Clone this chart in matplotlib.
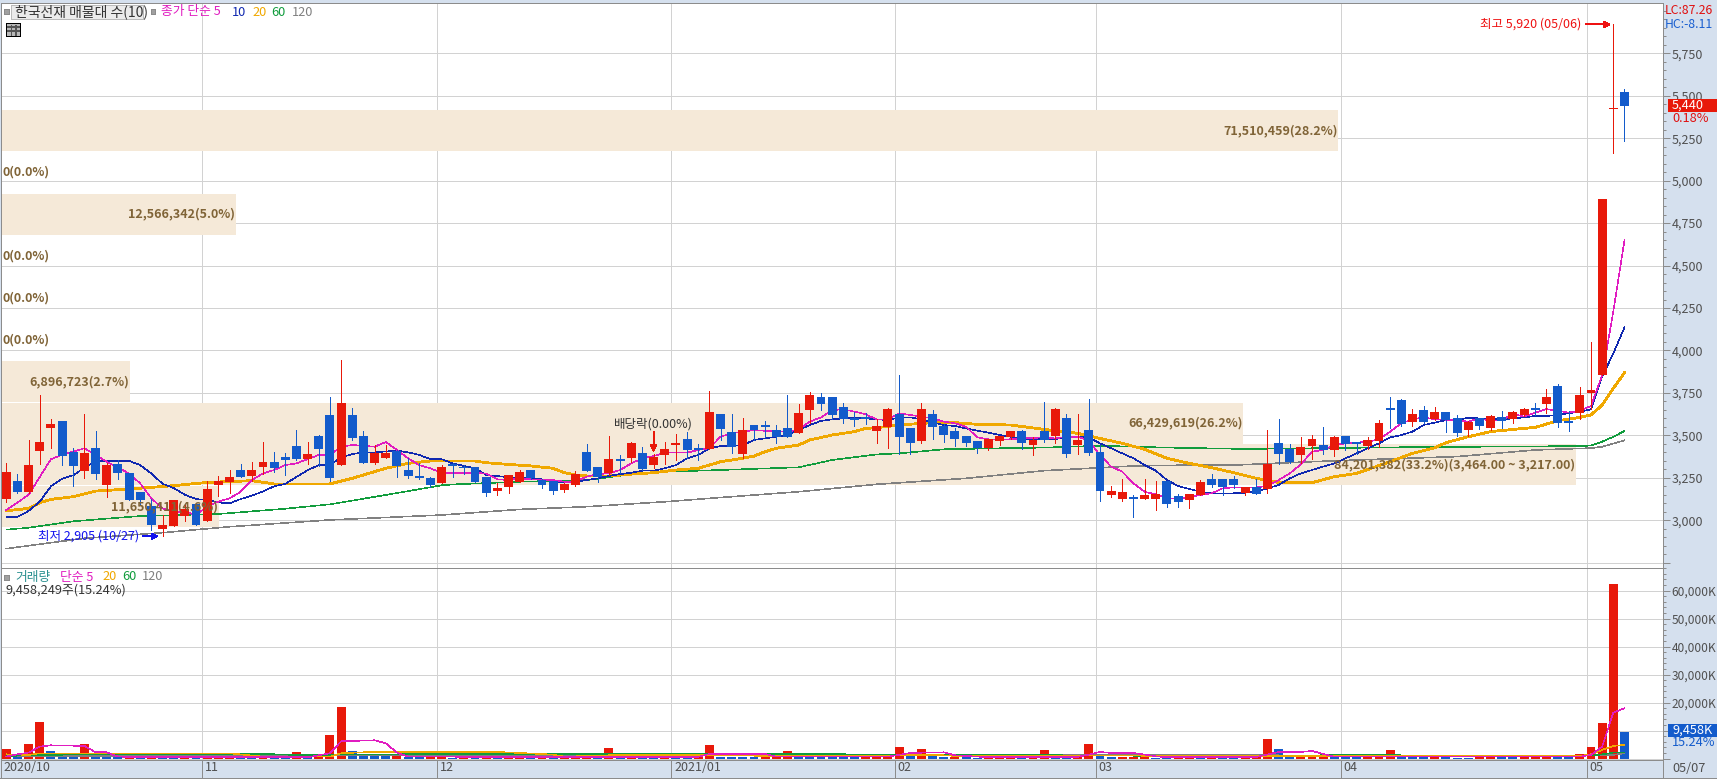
import matplotlib
matplotlib.use('Agg')
import matplotlib.pyplot as plt
from matplotlib.patches import Rectangle
from matplotlib.ticker import MultipleLocator
from matplotlib.transforms import ScaledTranslation

plt.rcParams['font.family'] = ['Noto Sans CJK KR', 'DejaVu Sans']
plt.rcParams['lines.antialiased'] = False
plt.rcParams['patch.antialiased'] = False

W, H = 1717, 779

# daily candles
opens = [3125,3230,3165,3410,3545,3585,3400,3290,3425,3210,
         3330,3280,3165,3085,2950,2965,3025,3095,2995,3210,
         3225,3295,3260,3315,3345,3370,3435,3360,3495,3620,
         3325,3620,3495,3335,3365,3410,3295,3260,3250,3220,
         3330,3310,3315,3255,3170,3195,3225,3295,3235,3230,
         3180,3210,3400,3315,3280,3360,3365,3395,3325,3385,
         3445,3480,3425,3420,3625,3520,3390,3560,3560,3530,
         3545,3515,3650,3725,3725,3665,3600,3610,3525,3550,
         3625,3545,3465,3625,3555,3525,3495,3465,3425,3465,
         3490,3525,3445,3525,3495,3600,3445,3530,3400,3150,
         3125,3135,3125,3125,3230,3145,3120,3150,3245,3245,
         3245,3160,3195,3185,3455,3420,3385,3435,3445,3415,
         3495,3460,3435,3465,3660,3710,3580,3650,3595,3635,
         3600,3530,3600,3545,3610,3595,3620,3660,3685,3790,
         3580,3630,3750,3855,5420,5520]
closes = [3285,3165,3325,3460,3565,3380,3320,3395,3270,3325,
          3280,3120,3120,2970,2970,3120,3065,2970,3185,3230,
          3255,3255,3295,3345,3310,3355,3360,3390,3420,3250,
          3690,3485,3335,3395,3395,3320,3260,3250,3210,3315,
          3320,3305,3225,3160,3190,3265,3285,3250,3210,3170,
          3215,3270,3290,3255,3360,3350,3455,3300,3370,3420,
          3455,3415,3415,3635,3535,3430,3530,3530,3550,3490,
          3490,3630,3740,3685,3620,3595,3590,3595,3555,3655,
          3490,3455,3655,3550,3500,3480,3455,3425,3480,3495,
          3525,3455,3475,3475,3655,3390,3475,3395,3170,3170,
          3165,3125,3150,3155,3095,3105,3155,3225,3210,3195,
          3210,3195,3155,3330,3390,3345,3430,3480,3415,3490,
          3450,3450,3475,3575,3650,3565,3625,3580,3635,3590,
          3515,3580,3555,3615,3585,3635,3655,3650,3725,3575,
          3575,3740,3765,4890,5430,5440]
highs = [3335,3270,3475,3740,3595,3585,3425,3625,3525,3335,
         3355,3280,3165,3125,3030,3120,3090,3095,3230,3260,
         3295,3330,3345,3460,3400,3395,3530,3460,3500,3725,
         3945,3660,3525,3445,3445,3415,3365,3335,3255,3325,
         3335,3325,3315,3255,3220,3265,3295,3295,3245,3230,
         3220,3290,3450,3315,3495,3385,3460,3430,3390,3460,
         3510,3520,3450,3760,3625,3625,3600,3560,3585,3560,
         3740,3685,3755,3750,3725,3690,3635,3630,3595,3660,
         3855,3545,3690,3650,3565,3545,3495,3465,3480,3495,
         3525,3530,3490,3695,3660,3625,3625,3715,3445,3200,
         3245,3150,3245,3230,3230,3155,3155,3235,3270,3245,
         3260,3195,3245,3530,3595,3450,3490,3500,3550,3495,
         3495,3460,3490,3590,3725,3715,3655,3675,3665,3635,
         3620,3585,3600,3620,3645,3645,3660,3690,3775,3800,
         3645,3785,4050,4890,5920,5540]
lows = [3105,3160,3160,3330,3425,3325,3200,3250,3245,3135,
        3245,3120,3090,2945,2905,2965,2995,2970,2995,3145,
        3160,3255,3230,3270,3285,3265,3355,3330,3320,3230,
        3325,3475,3335,3330,3365,3255,3250,3245,3195,3220,
        3255,3270,3225,3145,3150,3160,3225,3245,3190,3155,
        3165,3200,3290,3225,3265,3280,3345,3295,3310,3330,
        3355,3365,3355,3420,3475,3395,3365,3475,3490,3455,
        3490,3515,3575,3650,3595,3575,3555,3565,3455,3425,
        3390,3390,3455,3480,3460,3435,3435,3395,3415,3445,
        3480,3420,3385,3460,3455,3370,3390,3385,3115,3135,
        3115,3020,3125,3060,3080,3080,3070,3150,3195,3150,
        3190,3150,3155,3160,3330,3335,3335,3360,3390,3380,
        3415,3390,3420,3430,3545,3555,3555,3575,3590,3520,
        3495,3495,3535,3530,3545,3575,3615,3620,3630,3550,
        3525,3595,3655,3855,5165,5235]

# volume in thousands of shares
volumes = [3450,700,5200,13100,2700,1800,1100,5200,1100,1100,
           600,1000,600,1000,400,350,400,350,400,400,
           450,400,350,1000,500,600,2400,950,950,8450,
           18450,2700,1800,1100,1100,1500,600,700,800,400,
           350,400,350,400,350,400,400,350,400,350,
           400,600,1100,600,3900,1070,830,700,600,600,
           500,500,700,5000,700,700,700,700,830,830,
           2850,1070,1190,700,600,700,400,400,500,830,
           4300,1070,3570,1070,700,700,700,360,480,480,
           360,360,480,3200,700,700,700,5350,1070,700,
           700,700,830,360,360,400,400,360,400,360,
           360,400,600,7140,3570,700,1070,1070,700,600,
           500,400,500,500,3100,1070,1070,600,1070,500,
           360,360,700,700,500,500,500,500,500,400,
           500,1700,4200,12700,62350,9458]
vol_colors = ("rbrrbbbrbb" "brbrbbrbrr" "rbbrbbrbrr" "rbbbbrbbrr"
              "brbrbrrbrb" "rrrbrbrbbr" "bbrrbbbbrr" "rbbbbbbrrr"
              "rbrbbrbbrr" "rbrrbbrrbb" "rrrbbrrbrb" "brrrbbrrrb"
              "bbrrrbbbrb" "bbrrbbrrrb" "brrrrb")

# moving averages on the price panel
ma5_x = [0,2,3,4,5,7,8,9,11,12,13,14,15,16,17,18,19,20,21,22,23,24,25,26,28,29,30,31,32,33,34,35,36,37,38,39,
         41,43,44,45,46,47,49,50,51,52,53,54,55,56,57,58,59,61,62,63,64,65,66,67,69,70,71,72,73,74,75,76,77,78,
         79,80,81,83,84,85,86,87,88,89,91,93,94,95,96,97,98,99,100,101,102,103,104,105,106,107,108,109,110,112,113,114,115,116,
         117,118,119,120,121,122,123,124,125,126,127,128,130,131,132,133,134,135,136,137,138,139,140,141,142,143,144,145]
ma5_y = [3060,3150,3255,3360,3385,3424,3385,3345,3276,3217,3129,3070,3050,3050,3031,3080,3110,3129,3168,3237,3276,3296,3325,3335,3385,3385,3433,3443,3439,3433,3461,3414,3365,3325,3306,3280,
         3280,3276,3241,3237,3247,3241,3237,3227,3227,3257,3272,3276,3296,3335,3365,3378,3398,3398,3414,3424,3492,3512,3522,3531,3522,3522,3535,3581,3606,3649,3653,3640,3624,3594,
         3594,3630,3620,3600,3581,3571,3551,3488,3477,3473,3482,3488,3482,3492,3492,3469,3384,3316,3286,3217,3168,3153,3129,3127,3135,3149,3159,3188,3194,3194,3202,3237,3276,3329,
         3404,3414,3443,3453,3457,3463,3477,3522,3571,3594,3606,3594,3590,3581,3600,3586,3590,3626,3610,3634,3655,3645,3634,3645,3673,3855,4230,4650]
ma10_y = [3020,3020,3055,3110,3200,3245,3265,3310,3345,3350,
          3350,3350,3325,3275,3215,3190,3150,3125,3120,3105,
          3100,3125,3145,3170,3200,3215,3255,3295,3325,3325,
          3370,3390,3400,3400,3405,3410,3400,3385,3360,3360,
          3335,3320,3306,3267,3261,3253,3251,3247,3241,3233,
          3221,3227,3237,3247,3261,3272,3280,3292,3292,3306,
          3325,3365,3384,3424,3437,3437,3443,3473,3482,3492,
          3502,3531,3561,3585,3594,3600,3606,3600,3594,3590,
          3606,3606,3594,3577,3561,3555,3541,3528,3516,3502,
          3492,3482,3477,3477,3477,3492,3492,3488,3453,3424,
          3394,3365,3325,3292,3237,3202,3184,3168,3159,3159,
          3159,3162,3168,3188,3208,3247,3276,3296,3316,3335,
          3365,3394,3424,3453,3488,3502,3522,3561,3575,3590,
          3590,3604,3600,3600,3594,3600,3606,3614,3614,3620,
          3630,3640,3653,3846,3983,4136]
ma20_x = [0,2,3,4,6,8,11,13,15,18,22,24,29,31,34,36,38,39,
          42,43,45,47,49,50,51,52,54,56,58,60,62,63,64,66,67,68,69,71,72,74,76,77,78,
          80,83,85,87,90,93,96,98,100,102,104,106,108,110,112,114,117,
          119,121,124,126,128,129,131,133,135,137,139,141,142,143,144,145]
ma20_y = [3056,3070,3104,3123,3139,3172,3184,3194,3204,3223,3233,3214,3214,3247,3306,3335,3349,3349,
          3349,3339,3329,3320,3306,3280,3267,3261,3261,3272,3280,3296,3306,3325,3345,3365,3378,3404,3424,3443,3473,3502,3522,3541,3545,
          3561,3575,3575,3565,3561,3535,3512,3482,3453,3418,3365,3335,3310,3280,3247,3223,3221,
          3257,3276,3345,3394,3427,3457,3492,3522,3535,3547,3586,3606,3620,3679,3777,3869]
ma60_x = [0,2,6,12,19,25,29,34,39,40,46,52,56,59,64,71,74,78,80,84,89,93,98,104,111,117,125,141,142,143,144,145]
ma60_y = [2945,2956,2994,3025,3037,3068,3094,3149,3206,3211,3227,3237,3270,3286,3296,3312,3355,3388,3394,3418,3424,3428,3439,3428,3420,3424,3430,3437,3440,3463,3492,3526]
ma120_x = [0,7,14,20,29,39,46,52,59,65,71,78,86,93,101,106,110,117,121,130,137,142,143,145]
ma120_y = [2833,2894,2927,2962,3002,3031,3064,3080,3109,3139,3168,3212,3247,3292,3320,3325,3325,3345,3355,3375,3414,3425,3433,3471]

# moving averages on the volume panel
vma5_x = [0,1,2,3,4,7,8,9,10,13,27,29,30,33,34,35,36,50,62,63,68,69,79,81,84,85,88,96,97,98,99,101,103,104,112,113,114,116,117,118,119,120,141,142,143,144,145]
vma5_y = [700,1550,2140,4280,4760,4520,2260,2260,700,480,480,1900,6190,6550,5470,2140,700,600,600,1670,1670,700,700,2020,2260,1190,480,600,1430,2380,2020,2020,830,480,600,1430,2380,2380,2740,1670,700,700,700,1300,4280,16400,17970]
vma20_x = [0,2,3,20,23,29,30,32,44,46,49,50,54,63,69,80,84,85,97,104,112,141,142,143,144,145]
vma20_y = [1550,1300,1900,1900,700,700,1900,2260,2380,2020,1430,700,1190,1190,950,1190,1190,950,1190,950,950,950,1550,3100,4520,4880]
vma60_x = [0,7,24,26,40,72,78,85,104,113,120,130,142,143,144,145]
vma60_y = [950,1550,1550,1300,1670,1670,1430,1430,950,950,1300,1070,1070,1500,2140,2140]
vma120_x = [0,13,40,70,78,104,113,142,144,145]
vma120_y = [700,1100,1100,1430,1430,1190,1190,1070,1300,1900]

# price bands (volume by price), bottom row first
band_edges = [2960,3206,3452,3698,3944,4190,4436,4682,4928,5174,5420]
band_vols = [11650411,84201382,66429619,6896723,0,0,0,12566342,0,71510459]
band_labels = ['11,650,411(4.6%)','84,201,382(33.2%)(3,464.00 ~ 3,217.00)','66,429,619(26.2%)','6,896,723(2.7%)',
               '0(0.0%)','0(0.0%)','0(0.0%)','12,566,342(5.0%)','0(0.0%)','71,510,459(28.2%)']

price_ticks = [2750,3000,3250,3500,3750,4000,4250,4500,4750,5000,5250,5500,5750]
price_tick_labels = ['','3,000','3,250','3,500','3,750','4,000','4,250','4,500','4,750','5,000','5,250','5,500','5,750']
vol_ticks = [0,10000,20000,30000,40000,50000,60000]
vol_tick_labels = ['','','20,000K','30,000K','40,000K','50,000K','60,000K']
month_ticks = [-0.47,17.58,38.6,59.6,79.6,97.6,119.6,141.6]
month_labels = ['2020/10','11','12','2021/01','02','03','04','05']

RED = '#e8190a'
BLUE = '#135bcb'
MAGENTA = '#e01cc0'
NAVY = '#1028b0'
ORANGE = '#f0a800'
GREEN = '#109c3c'
GREY = '#808080'
GRID = '#d2d2d2'
EDGE = '#8c8c8c'
BAND = '#f5e9d8'
BROWN = '#806437'
TICKTXT = '#505050'
PX = 0.72  # one pixel in points
THIN = 0.4  # polylines come out a pixel fatter without antialiasing


def fx(x):
    return x / W


def fy(y):
    return 1 - y / H


def ftext(x, y, s, color='#333333', size=9.2, ha='left', **kw):
    fig.text(fx(x), fy(y), s, color=color, fontsize=size, ha=ha, va='center', zorder=8, **kw)


def frect(x0, y0, x1, y1, color, edge='none', z=6):
    fig.add_artist(Rectangle((fx(x0), fy(y1)), fx(x1 - x0), (y1 - y0) / H, transform=fig.transFigure,
                             facecolor=color, edgecolor=edge, linewidth=PX, zorder=z))


fig = plt.figure(figsize=(W / 100, H / 100), dpi=100, facecolor='#d5e0ee')
ax = fig.add_axes([fx(1), fy(568), fx(1662), (568 - 3) / H])
ax_v = fig.add_axes([fx(1), fy(760), fx(1662), (760 - 568) / H], sharex=ax)

days = list(range(len(closes)))
ax.set_xlim(-0.475, 148.45)
ax.set_ylim(2719, 6046)
ax_v.set_ylim(-500, 68070)

for a in (ax, ax_v):
    a.set_axisbelow(True)
    a.grid(True, color=GRID, lw=PX)
    a.yaxis.tick_right()
    for s in a.spines.values():
        s.set_color(EDGE)
        s.set_linewidth(PX)

# bands sit over the grid, under everything else
band_width = 141.1 / max(band_vols)
for i in range(len(band_vols)):
    if band_vols[i] > 0:
        ax.barh(band_edges[i], band_vols[i] * band_width, height=band_edges[i + 1] - band_edges[i] - 5,
                left=-0.475, align='edge', color=BAND, zorder=1.5)

ax.plot(ma120_x, ma120_y, color=GREY, lw=THIN, zorder=2)
ax.plot(ma60_x, ma60_y, color=GREEN, lw=THIN, zorder=2)
ax.plot(ma20_x, ma20_y, color=ORANGE, lw=1.3, zorder=2)
ax.plot(days, ma10_y, color=NAVY, lw=THIN, zorder=2)
ax.plot(ma5_x, ma5_y, color=MAGENTA, lw=THIN, zorder=2)

up = [c >= o for o, c in zip(opens, closes)]
candle_colors = [RED if u else BLUE for u in up]
ax.vlines(days, lows, highs, colors=candle_colors, lw=PX, zorder=3)
bottoms = [min(o, c) for o, c in zip(opens, closes)]
heights = [max(abs(c - o), 8) for o, c in zip(opens, closes)]
ax.bar(days, heights, bottom=bottoms, width=0.8, color=candle_colors, zorder=3.1)

# volume panel
bar_colors = [RED if c == 'r' else BLUE for c in vol_colors]
ax_v.bar(days, volumes, width=0.8, color=bar_colors, zorder=2)
ax_v.plot(vma120_x, vma120_y, color=GREY, lw=THIN, zorder=3)
ax_v.plot(vma60_x, vma60_y, color=GREEN, lw=THIN, zorder=3)
ax_v.plot(vma20_x, vma20_y, color=ORANGE, lw=THIN, zorder=3)
ax_v.plot(vma5_x, vma5_y, color=MAGENTA, lw=THIN, zorder=3)

# axes
ax.set_yticks(price_ticks)
ax.set_yticklabels(price_tick_labels)
ax.yaxis.set_minor_locator(MultipleLocator(50))
ax_v.set_yticks(vol_ticks)
ax_v.set_yticklabels(vol_tick_labels)
ax_v.yaxis.set_minor_locator(MultipleLocator(2000))
for a, size in ((ax, 9), (ax_v, 8.6)):
    a.tick_params(axis='y', which='major', length=5, width=PX, color=EDGE, labelcolor=TICKTXT,
                  labelsize=size, pad=1)
    a.tick_params(axis='y', which='minor', length=1.8, width=PX, color=EDGE)

ax.tick_params(axis='x', length=0, labelbottom=False)
ax_v.set_xticks(month_ticks)
ax_v.set_xticklabels(month_labels)
ax_v.tick_params(axis='x', length=13, width=PX, color=EDGE, labelcolor=TICKTXT, labelsize=9, pad=-12.5)
shift = ScaledTranslation(2 / 72, 0, fig.dpi_scale_trans)
for lb in ax_v.get_xticklabels():
    lb.set_ha('left')
    lb.set_transform(lb.get_transform() + shift)

# band labels
for i in range(len(band_vols)):
    yc = (band_edges[i] + band_edges[i + 1]) / 2
    if band_vols[i] > 0:
        ax.text(-0.475 + band_vols[i] * band_width - 0.05, yc - 3, band_labels[i], ha='right', va='center',
                color=BROWN, fontsize=9, fontweight='bold', zorder=6)
    else:
        ax.text(-0.3, yc - 3, band_labels[i], ha='left', va='center', color=BROWN, fontsize=9,
                fontweight='bold', zorder=6)

# high, low and ex-dividend marks
ax.annotate('최고 5,920 (05/06)', xy=(143.75, 5920), xytext=(-21, 0), textcoords='offset points',
            ha='right', va='center', color='#ee1111', fontsize=9, zorder=7,
            arrowprops=dict(arrowstyle='-|>', color='#ee1111', lw=PX, shrinkA=1, shrinkB=0))
ax.annotate('최저 2,905 (10/27)', xy=(13.6, 2905), xytext=(-14, 0), textcoords='offset points',
            ha='right', va='center', color='#1111ee', fontsize=9, zorder=7,
            arrowprops=dict(arrowstyle='-|>', color='#1111ee', lw=PX, shrinkA=1, shrinkB=0))
ax.annotate('', xy=(58, 3403), xytext=(58, 3520),
            arrowprops=dict(arrowstyle='-|>', color=RED, lw=PX, shrinkA=0, shrinkB=0), zorder=7)
ax.text(54.45, 3568, '배당락(0.00%)', color='#333333', fontsize=9, ha='left', va='center', zorder=7)

# legend, top panel
frect(4, 9, 9, 14, '#a0a0a0', EDGE)
frect(11, 5, 143, 19, '#ebebeb', '#bbbbbb')
ftext(15, 12, '한국선재 매물대 수(10)', size=10)
frect(151, 9, 155, 14, '#a0a0a0', EDGE)
ftext(161, 12, '종가 단순 5', MAGENTA)
ftext(232, 12, '10', NAVY)
ftext(252, 12, '20', ORANGE)
ftext(271, 12, '60', GREEN)
ftext(292, 12, '120', GREY)

# little table icon
frect(6, 23, 20, 36, '#b8b8b8', 'black')
for xl in (10.5, 15):
    frect(xl, 25, xl + 0.5, 35, '#555555', '#555555')
for yl in (26, 30):
    frect(7, yl, 19, yl + 0.5, '#555555', '#555555')

# legend, volume panel
frect(4, 575, 9, 580, '#a0a0a0', EDGE)
ftext(15, 577, '거래량', '#2a9090')
ftext(60, 577, '단순 5', MAGENTA)
ftext(102, 577, '20', ORANGE)
ftext(122, 577, '60', GREEN)
ftext(142, 577, '120', GREY)
ftext(5, 590, '9,458,249주(15.24%)')

# right side readouts
ftext(1665, 11, 'LC:87.26', '#e01010', 8.8)
ftext(1665, 24, 'HC:-8.11', '#1a5fd0', 8.8)
frect(1668, 99, 1717, 112, RED)
ftext(1672, 105.5, '5,440', 'white')
ftext(1672, 118, '0.18%', '#e01010')
frect(1668, 724, 1717, 737, BLUE)
ftext(1672, 730.5, '9,458K', 'white')
ftext(1672, 743, '15.24%', BLUE)
ftext(1672, 769, '05/07', TICKTXT)
frect(1663, 760, 1664, 778, EDGE)
frect(0, 778, 1717, 779, EDGE)

fig.savefig('out.png', dpi=100)
